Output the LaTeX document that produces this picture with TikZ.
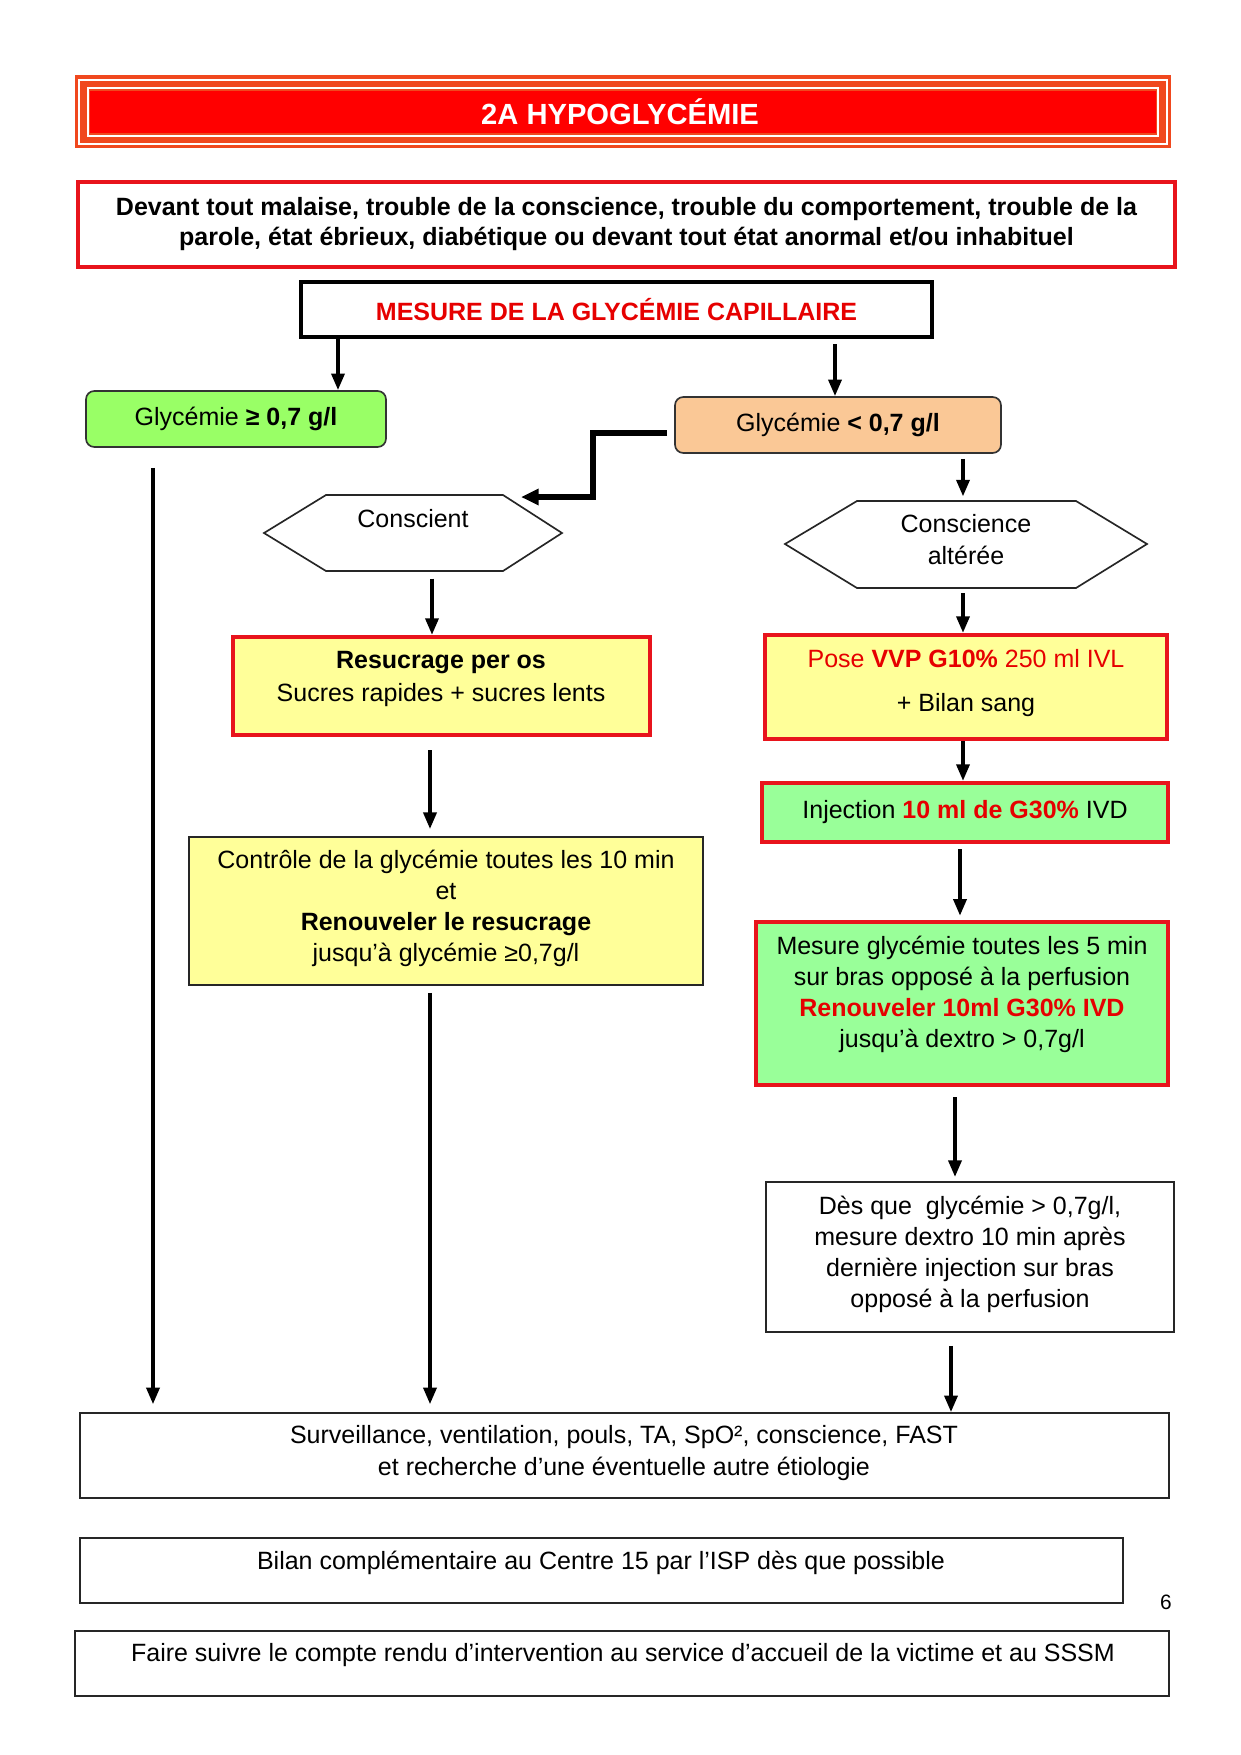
\documentclass[tikz,border=0pt]{standalone}
\usepackage{fontspec}
\setmainfont{Liberation Sans}
\usetikzlibrary{arrows.meta}
\definecolor{titleor}{RGB}{240,72,30}
\definecolor{titlered}{RGB}{255,0,0}
\definecolor{bred}{RGB}{232,20,28}
\definecolor{tred}{RGB}{230,0,0}
\definecolor{greenA}{RGB}{153,255,102}
\definecolor{peach}{RGB}{250,200,150}
\definecolor{pyellow}{RGB}{255,255,153}
\definecolor{pgreen}{RGB}{153,255,153}
\newcommand\fs{\fontsize{12}{14.4}\selectfont}
\newcommand\mkbox[7]{\node[#6,minimum width={(#4-#2)*0.48pt},minimum height={(#5-#3)*0.48pt}] (#1) at ({(#2+#4)/2},{(#3+#5)/2}) {#7};}
\begin{document}
\begin{tikzpicture}[x=0.48pt,y=-0.48pt,
  arr/.style={-{Triangle[length=8pt,width=6.2pt]},line width=1.8pt},
  redbox/.style={draw=bred,line width=2pt,inner sep=0pt,align=center,font=\fs},
  thinbox/.style={draw=black!85,line width=0.8pt,inner sep=0pt,align=center,font=\fs},
  roundbox/.style={draw=black!80,line width=0.8pt,rounded corners=4pt,inner sep=0pt,align=center,font=\fs},
  hexarea/.style={inner sep=0pt,draw=none},
  txt/.style={inner sep=0pt,align=center,font=\fs}]
\useasboundingbox (0,0) rectangle (1241,1755);

% title banner
\mkbox{title}{75}{75}{1171}{148}{fill=titleor,inner sep=0pt}{}
\draw[white,line width=0.9pt] (79,80) rectangle (1167,144);
\draw[white,line width=0.9pt] (88,88) rectangle (1158,136);
\fill[titlered] (90,91) rectangle (1156,133);
\node[txt,text=white,font=\fontsize{14}{16}\selectfont\bfseries] (titletext) at (620,112) {2A HYPOGLYCÉMIE};

% intro
\mkbox{intro}{78}{182}{1175}{267}{redbox,fill=white}{\bfseries Devant tout malaise, trouble de la conscience, trouble du comportement, trouble de la\\\bfseries parole, état ébrieux, diabétique ou devant tout état anormal et/ou inhabituel}

% mesure
\mkbox{mesure}{301}{282}{932}{337}{draw=black,line width=2pt,inner sep=0pt,font=\fs\bfseries,text=tred}{MESURE DE LA GLYCÉMIE CAPILLAIRE}

% glycemie boxes
\mkbox{glhi}{86}{391}{386}{447}{roundbox,fill=greenA}{Glycémie \textbf{≥ 0,7 g/l}}
\mkbox{gllo}{675}{397}{1001}{453}{roundbox,fill=peach}{Glycémie \textbf{< 0,7 g/l}}

% hexagons
\mkbox{consc}{264}{495}{562}{571}{hexarea}{}
\draw[black!85,line width=0.8pt] (264,533) -- (326,495) -- (503,495) -- (562,533) -- (503,571) -- (326,571) -- cycle;
\node[txt] (consct) at (413,519) {Conscient};
\mkbox{alt}{785}{501}{1147}{588}{hexarea}{}
\draw[black!85,line width=0.8pt] (785,544) -- (857,501) -- (1076,501) -- (1147,544) -- (1076,588) -- (857,588) -- cycle;
\node[txt] (altt) at (966,540) {Conscience\\[1pt]altérée};

% left branch
\mkbox{resu}{233}{637}{650}{735}{redbox,fill=pyellow}{}
\node[txt] (resut) at (441,679) {\textbf{Resucrage per os}\\[1pt]Sucres rapides + sucres lents};
\mkbox{ctrl}{189}{837}{703}{985}{thinbox,fill=pyellow}{}
\node[txt] (ctrlt) at (446,908) {Contrôle de la glycémie toutes les 10 min\\[0.5pt]et\\[0.5pt]\textbf{Renouveler le resucrage}\\[0.5pt]jusqu’à glycémie ≥0,7g/l};

% right branch
\mkbox{pose}{765}{635}{1167}{739}{redbox,fill=pyellow}{}
\node[txt] (poset) at (966,683) {\textcolor{tred}{Pose \textbf{VVP G10\%} 250 ml IVL}\\[7pt]+ Bilan sang};
\mkbox{inj}{762}{783}{1168}{842}{redbox,fill=pgreen}{Injection \textcolor{tred}{\textbf{10 ml de G30\%}} IVD}
\mkbox{mes}{756}{922}{1168}{1085}{redbox,fill=pgreen}{}
\node[txt] (mest) at (962,994) {Mesure glycémie toutes les 5 min\\[0.5pt]sur bras opposé à la perfusion\\[0.5pt]\textcolor{tred}{\textbf{Renouveler 10ml G30\% IVD}}\\[0.5pt]jusqu’à dextro > 0,7g/l};
\mkbox{des}{766}{1182}{1174}{1332}{thinbox,fill=white}{}
\node[txt] (dest) at (970,1254) {Dès que\ \ glycémie > 0,7g/l,\\[0.5pt]mesure dextro 10 min après\\[0.5pt]dernière injection sur bras\\[0.5pt]opposé à la perfusion};

% bottom boxes
\mkbox{surv}{80}{1413}{1169}{1498}{thinbox,fill=white}{}
\node[txt] (survt) at (624,1453) {Surveillance, ventilation, pouls, TA, SpO², conscience, FAST\\[0.5pt]et recherche d’une éventuelle autre étiologie};
\mkbox{bilan}{80}{1538}{1123}{1603}{thinbox,fill=white}{}
\node[txt] (bilant) at (601,1563) {Bilan complémentaire au Centre 15 par l’ISP dès que possible};
\node[txt,font=\fontsize{10}{12}\selectfont] (pagenum) at (1166,1602) {6};
\mkbox{faire}{75}{1631}{1169}{1696}{thinbox,fill=white}{}
\node[txt] (fairet) at (623,1655) {Faire suivre le compte rendu d’intervention au service d’accueil de la victime et au SSSM};

% column coordinates
\coordinate (c338) at (338,0);
\coordinate (c835) at (835,0);
\coordinate (c963) at (963,0);
\coordinate (c153) at (153,0);
\coordinate (c432) at (432,0);
\coordinate (c430) at (430,0);
\coordinate (c960) at (960,0);
\coordinate (c955) at (955,0);
\coordinate (c951) at (951,0);

% connectors
\draw[arr] (mesure.south -| c338) -- (glhi.north -| c338);
\draw[arr,shorten <=2.4pt] (mesure.south -| c835) -- (gllo.north -| c835);
\coordinate (e0) at (667,433);
\coordinate (e1) at (593,433);
\coordinate (e2) at (593,497);
\coordinate (e3) at (521,497);
\draw[-{Triangle[length=8.5pt,width=7.5pt]},line width=2.6pt] (e0) -- (e1) -- (e2) -- (e3);
\draw[arr,shorten <=2.4pt,shorten >=2pt] (gllo.south -| c963) -- (alt.north -| c963);
\draw[arr,shorten <=9.6pt,shorten >=3.8pt] (glhi.south -| c153) -- (surv.north -| c153);
\draw[arr,shorten <=3.4pt] (consc.south -| c432) -- (resu.north -| c432);
\draw[arr,shorten <=2.4pt] (alt.south -| c963) -- (pose.north -| c963);
\draw[arr,shorten <=6.2pt,shorten >=3.4pt] (resu.south -| c430) -- (ctrl.north -| c430);
\draw[arr,shorten <=3.4pt,shorten >=3.8pt] (ctrl.south -| c430) -- (surv.north -| c430);
\draw[arr] (pose.south -| c963) -- (inj.north -| c963);
\draw[arr,shorten <=2.4pt,shorten >=2pt] (inj.south -| c960) -- (mes.north -| c960);
\draw[arr,shorten <=4.8pt,shorten >=2pt] (mes.south -| c955) -- (des.north -| c955);
\draw[arr,shorten <=6.2pt] (des.south -| c951) -- (surv.north -| c951);
\end{tikzpicture}
\end{document}
